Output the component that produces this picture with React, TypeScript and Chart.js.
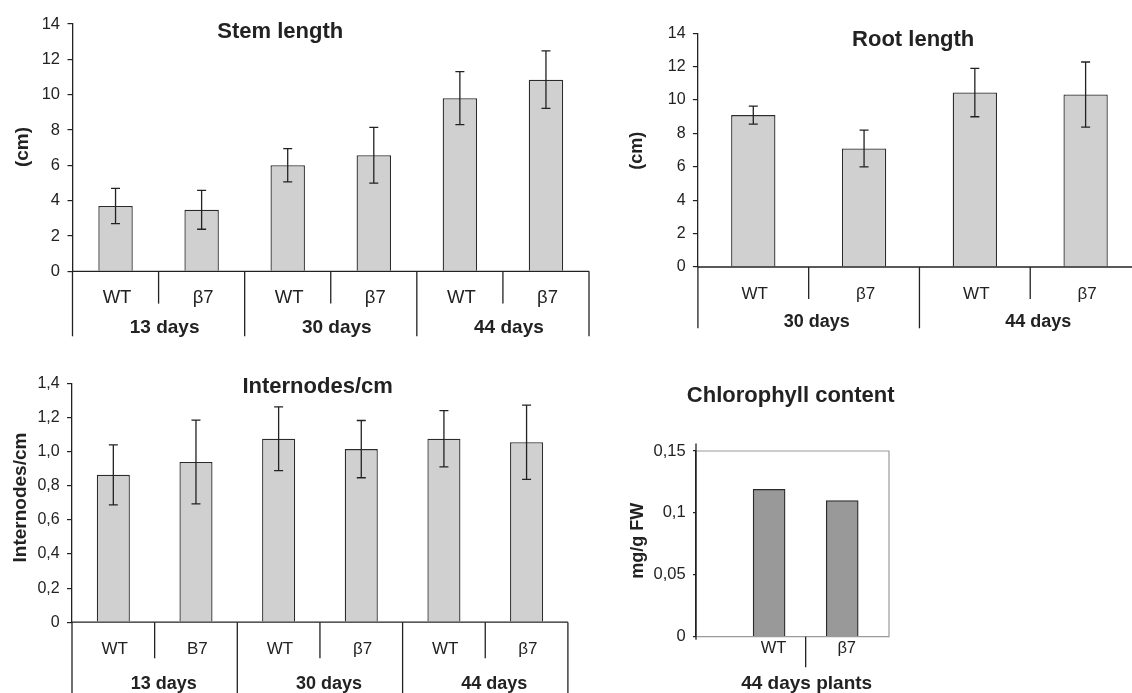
import React, { useEffect, useRef } from 'react';
import { Chart, registerables } from 'chart.js';

Chart.register(...registerables);

const FONT = "'Liberation Sans', Arial, Helvetica, sans-serif";
const INK = '#222222';

// ---- Data ----
const STEM_CATEGORIES = ['WT', 'β7', 'WT', 'β7', 'WT', 'β7'];
const STEM_GROUPS = ['13 days', '30 days', '44 days'];
const STEM_MEANS = [3.7, 3.48, 6.0, 6.57, 9.8, 10.85];
const STEM_ERRORS = [1.0, 1.1, 0.94, 1.58, 1.5, 1.63];

const ROOT_CATEGORIES = ['WT', 'β7', 'WT', 'β7'];
const ROOT_GROUPS = ['30 days', '44 days'];
const ROOT_MEANS = [9.1, 7.1, 10.45, 10.33];
const ROOT_ERRORS = [0.54, 1.1, 1.45, 1.95];

const INTERNODE_CATEGORIES = ['WT', 'B7', 'WT', 'β7', 'WT', 'β7'];
const INTERNODE_GROUPS = ['13 days', '30 days', '44 days'];
const INTERNODE_MEANS = [0.865, 0.94, 1.077, 1.016, 1.077, 1.056];
const INTERNODE_ERRORS = [0.176, 0.246, 0.187, 0.168, 0.165, 0.218];

const CHL_CATEGORIES = ['WT', 'β7'];
const CHL_GROUP = '44 days plants';
const CHL_MEANS = [0.119, 0.11];

type Box = { left: number; top: number; width: number; height: number };

function ChartCanvas({ box, build }: { box: Box; build: () => any }) {
  const ref = useRef<HTMLCanvasElement>(null);
  useEffect(() => {
    const chart = new Chart(ref.current as HTMLCanvasElement, build());
    return () => chart.destroy();
  }, []);
  return (
    <canvas
      ref={ref}
      width={box.width}
      height={box.height}
      style={{ position: 'absolute', left: box.left, top: box.top, width: box.width, height: box.height }}
    />
  );
}

type GroupedCfg = {
  box: Box;
  yAxisWidth: number; padTop: number; padRight: number; xAxisHeight: number;
  categories: string[]; groups: string[]; means: number[]; errors: number[];
  yMax: number; yStep: number; tickFormat: (v: number) => string; tickFont: number; tickPad: number;
  title: string; titleDx: number; titleDy: number; titleFont: number;
  yTitle: string; yTitleDx: number; yTitleDy: number; yTitleFont: number;
  catFont: number; catDx: number; catDy: number;
  groupFont: number; groupDx: number; groupDy: number;
  shortLen: number; longLen: number;
};

function buildGrouped(c: GroupedCfg) {
  const plugin = {
    id: 'groupedAxis',
    afterDatasetsDraw(chart: any) {
      const { ctx, chartArea: ca } = chart;
      const x = chart.scales.x;
      const y = chart.scales.y;
      const y0 = y.getPixelForValue(0);
      const n = c.categories.length;
      const per = n / c.groups.length;
      ctx.save();
      ctx.strokeStyle = INK;
      ctx.lineWidth = 1.3;
      // error bars
      c.means.forEach((m, i) => {
        const px = x.getPixelForValue(i);
        const t = y.getPixelForValue(m + c.errors[i]);
        const b = y.getPixelForValue(m - c.errors[i]);
        ctx.beginPath();
        ctx.moveTo(px, t); ctx.lineTo(px, b);
        ctx.moveTo(px - 4.5, t); ctx.lineTo(px + 4.5, t);
        ctx.moveTo(px - 4.5, b); ctx.lineTo(px + 4.5, b);
        ctx.stroke();
      });
      // x axis line
      ctx.beginPath();
      ctx.moveTo(ca.left, y0); ctx.lineTo(ca.right, y0);
      ctx.stroke();
      // separators
      for (let i = 0; i <= n; i++) {
        const sx = x.getPixelForValue(i - 0.5);
        const len = i % per === 0 ? c.longLen : c.shortLen;
        ctx.beginPath();
        ctx.moveTo(sx, y0); ctx.lineTo(sx, y0 + len);
        ctx.stroke();
      }
      ctx.fillStyle = INK;
      ctx.textAlign = 'center';
      ctx.textBaseline = 'alphabetic';
      // category labels
      ctx.font = `${c.catFont}px ${FONT}`;
      c.categories.forEach((lab, i) => {
        ctx.fillText(lab, x.getPixelForValue(i) + c.catDx, y0 + c.catDy);
      });
      // group labels
      ctx.font = `bold ${c.groupFont}px ${FONT}`;
      c.groups.forEach((g, gi) => {
        const cx = x.getPixelForValue(gi * per + (per - 1) / 2);
        ctx.fillText(g, cx + c.groupDx, y0 + c.groupDy);
      });
      // title
      ctx.font = `bold ${c.titleFont}px ${FONT}`;
      ctx.fillText(c.title, ca.left + c.titleDx, ca.top + c.titleDy);
      // y title
      ctx.font = `bold ${c.yTitleFont}px ${FONT}`;
      ctx.translate(ca.left + c.yTitleDx, (ca.top + ca.bottom) / 2 + c.yTitleDy);
      ctx.rotate(-Math.PI / 2);
      ctx.textBaseline = 'middle';
      ctx.fillText(c.yTitle, 0, 0);
      ctx.restore();
    },
  };
  return {
    type: 'bar',
    data: {
      labels: c.categories,
      datasets: [
        {
          data: c.means,
          backgroundColor: '#d0d0d0',
          borderColor: '#2b2b2b',
          borderWidth: 1.3,
          barPercentage: 0.4,
          categoryPercentage: 1,
        },
      ],
    },
    options: {
      responsive: false,
      animation: false,
      layout: { padding: { left: 0, top: c.padTop, right: c.padRight, bottom: 0 } },
      plugins: { legend: { display: false }, tooltip: { enabled: false }, title: { display: false } },
      scales: {
        x: {
          type: 'category',
          offset: true,
          grid: { display: false },
          border: { display: false },
          ticks: { display: false },
          afterFit: (s: any) => { s.height = c.xAxisHeight; },
        },
        y: {
          min: 0,
          max: c.yMax,
          ticks: {
            stepSize: c.yStep,
            callback: (v: any) => c.tickFormat(Number(v)),
            font: { family: FONT, size: c.tickFont },
            color: INK,
            padding: c.tickPad,
          },
          grid: { display: true, drawOnChartArea: false, drawTicks: true, tickLength: 5, color: INK, lineWidth: 1.2 },
          border: { display: true, color: INK, width: 1.3 },
          afterFit: (s: any) => { s.width = c.yAxisWidth; },
        },
      },
    },
    plugins: [plugin],
  };
}

function buildChlorophyll() {
  const box = { padTop: 106, padRight: 31, yAxisWidth: 76, xAxisHeight: 56.3 };
  const positions = CHL_CATEGORIES.map((_, i) => i + 1);
  const plugin = {
    id: 'chlAxis',
    afterDatasetsDraw(chart: any) {
      const { ctx, chartArea: ca } = chart;
      const x = chart.scales.x;
      const y = chart.scales.y;
      const y0 = y.getPixelForValue(0);
      ctx.save();
      // gray plot-area box
      ctx.strokeStyle = '#9a9a9a';
      ctx.lineWidth = 1.2;
      ctx.beginPath();
      ctx.moveTo(ca.left, ca.top); ctx.lineTo(ca.right, ca.top);
      ctx.lineTo(ca.right, y0); ctx.lineTo(ca.left, y0);
      ctx.stroke();
      // extended y axis
      ctx.strokeStyle = INK;
      ctx.lineWidth = 1.3;
      ctx.beginPath();
      ctx.moveTo(ca.left, ca.top - 7.5); ctx.lineTo(ca.left, y0 + 3);
      ctx.stroke();
      // separator between categories
      const mid = (positions[0] + positions[positions.length - 1]) / 2;
      const sx = x.getPixelForValue(mid);
      ctx.beginPath();
      ctx.moveTo(sx, y0); ctx.lineTo(sx, y0 + 30.6);
      ctx.stroke();
      ctx.fillStyle = INK;
      ctx.textAlign = 'center';
      ctx.textBaseline = 'alphabetic';
      ctx.font = `16.5px ${FONT}`;
      CHL_CATEGORIES.forEach((lab, i) => {
        ctx.fillText(lab, x.getPixelForValue(positions[i]) + 4.5, y0 + 16.5);
      });
      ctx.font = `bold 19px ${FONT}`;
      ctx.fillText(CHL_GROUP, sx + 1, y0 + 52.6);
      ctx.font = `bold 22px ${FONT}`;
      ctx.fillText('Chlorophyll content', ca.left + 94.7, ca.top - 48.7);
      ctx.font = `bold 18px ${FONT}`;
      ctx.translate(ca.left - 58, (ca.top + ca.bottom) / 2 - 3);
      ctx.rotate(-Math.PI / 2);
      ctx.textBaseline = 'middle';
      ctx.fillText('mg/g FW', 0, 0);
      ctx.restore();
    },
  };
  return {
    type: 'bar',
    data: {
      datasets: [
        {
          data: CHL_MEANS.map((v, i) => ({ x: positions[i], y: v })),
          backgroundColor: '#999999',
          borderColor: '#2b2b2b',
          borderWidth: 1.3,
          barThickness: 32,
        },
      ],
    },
    options: {
      responsive: false,
      animation: false,
      layout: { padding: { left: 0, top: box.padTop, right: box.padRight, bottom: 0 } },
      plugins: { legend: { display: false }, tooltip: { enabled: false }, title: { display: false } },
      scales: {
        x: {
          type: 'linear',
          offset: false,
          min: 0,
          max: 2.64,
          grid: { display: false, offset: false },
          border: { display: false },
          ticks: { display: false, stepSize: 1, includeBounds: false },
          afterFit: (s: any) => { s.height = box.xAxisHeight; },
        },
        y: {
          min: 0,
          max: 0.15,
          ticks: {
            stepSize: 0.05,
            callback: (v: any) => (Number(v) === 0 ? '0' : String(+Number(v).toFixed(2)).replace('.', ',')),
            font: { family: FONT, size: 16.5 },
            color: INK,
            padding: 7.4,
          },
          grid: { display: true, drawOnChartArea: false, drawTicks: true, tickLength: 3, color: INK, lineWidth: 1.2 },
          border: { display: true, color: INK, width: 1.3 },
          afterFit: (s: any) => { s.width = box.yAxisWidth; },
        },
      },
    },
    plugins: [plugin],
  };
}

const intFmt = (v: number) => String(Math.round(v));
const oneDecFmt = (v: number) => (v === 0 ? '0' : v.toFixed(1).replace('.', ','));

const STEM_CFG: GroupedCfg = {
  box: { left: 0, top: 0, width: 600, height: 345 },
  yAxisWidth: 72.5, padTop: 24, padRight: 11, xAxisHeight: 73.7,
  categories: STEM_CATEGORIES, groups: STEM_GROUPS, means: STEM_MEANS, errors: STEM_ERRORS,
  yMax: 14, yStep: 2, tickFormat: intFmt, tickFont: 16.5, tickPad: 7.5,
  title: 'Stem length', titleDx: 207.8, titleDy: 14.3, titleFont: 22,
  yTitle: '(cm)', yTitleDx: -50.2, yTitleDy: -0.6, yTitleFont: 19,
  catFont: 18.5, catDx: 1.5, catDy: 31.7,
  groupFont: 19, groupDx: 6, groupDy: 61.5,
  shortLen: 32.3, longLen: 65,
};

const ROOT_CFG: GroupedCfg = {
  box: { left: 620, top: 0, width: 530, height: 345 },
  yAxisWidth: 77.9, padTop: 33.3, padRight: 9, xAxisHeight: 78,
  categories: ROOT_CATEGORIES, groups: ROOT_GROUPS, means: ROOT_MEANS, errors: ROOT_ERRORS,
  yMax: 14, yStep: 2, tickFormat: intFmt, tickFont: 16, tickPad: 7.3,
  title: 'Root length', titleDx: 215.3, titleDy: 12.2, titleFont: 22,
  yTitle: '(cm)', yTitleDx: -60.7, yTitleDy: 0.6, yTitleFont: 18,
  catFont: 17, catDx: 1.5, catDy: 31.5,
  groupFont: 18, groupDx: 8, groupDy: 60.3,
  shortLen: 32, longLen: 61.3,
};

const INTERNODE_CFG: GroupedCfg = {
  box: { left: 0, top: 345, width: 590, height: 348 },
  yAxisWidth: 72, padTop: 38.7, padRight: 22.1, xAxisHeight: 70.8,
  categories: INTERNODE_CATEGORIES, groups: INTERNODE_GROUPS, means: INTERNODE_MEANS, errors: INTERNODE_ERRORS,
  yMax: 1.4, yStep: 0.2, tickFormat: oneDecFmt, tickFont: 16, tickPad: 7.3,
  title: 'Internodes/cm', titleDx: 245.6, titleDy: 9.3, titleFont: 22,
  yTitle: 'Internodes/cm', yTitleDx: -51.1, yTitleDy: -5.4, yTitleFont: 19,
  catFont: 17, catDx: 1.3, catDy: 32,
  groupFont: 18, groupDx: 9, groupDy: 66.8,
  shortLen: 36, longLen: 80,
};

export default function App() {
  return (
    <div
      style={{
        position: 'absolute', left: 0, top: 0, width: 1132, height: 693,
        overflow: 'hidden', background: '#ffffff',
      }}
    >
      <ChartCanvas box={STEM_CFG.box} build={() => buildGrouped(STEM_CFG)} />
      <ChartCanvas box={ROOT_CFG.box} build={() => buildGrouped(ROOT_CFG)} />
      <ChartCanvas box={INTERNODE_CFG.box} build={() => buildGrouped(INTERNODE_CFG)} />
      <ChartCanvas box={{ left: 620, top: 345, width: 300, height: 348 }} build={buildChlorophyll} />
    </div>
  );
}
